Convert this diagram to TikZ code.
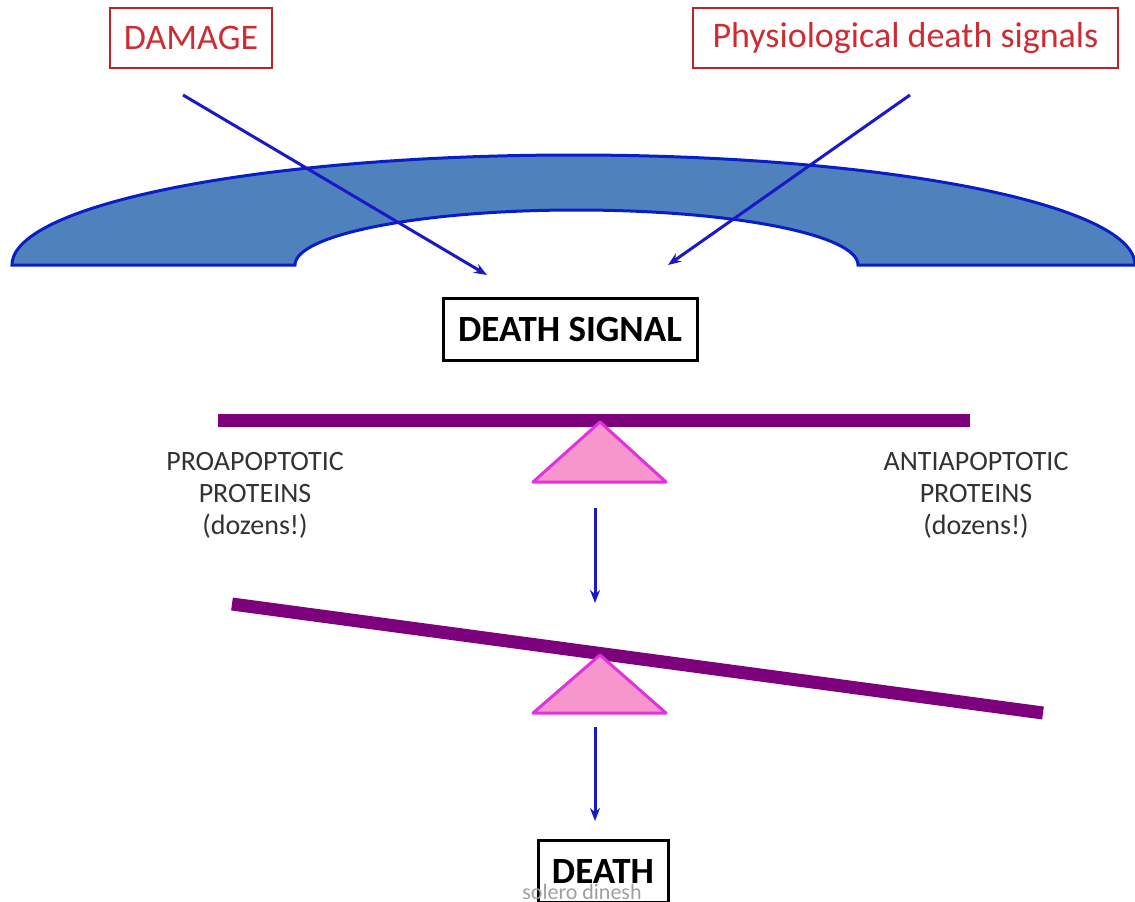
\documentclass[tikz,border=0pt]{standalone}
\usepackage{fontspec}
\setmainfont{Carlito}
\usetikzlibrary{arrows.meta}
\definecolor{boxred}{RGB}{192,32,40}
\definecolor{txtred}{RGB}{205,45,50}
\definecolor{arrowblue}{RGB}{25,25,200}
\definecolor{shapefill}{RGB}{79,129,189}
\definecolor{shapeedge}{RGB}{10,30,200}
\definecolor{beam}{RGB}{125,0,125}
\definecolor{pivotfill}{RGB}{247,150,205}
\definecolor{pivotedge}{RGB}{225,50,220}
\definecolor{labelgray}{RGB}{50,50,50}
\tikzset{
  redbox/.style={draw=boxred, line width=2.6pt, text=txtred, font=\fontsize{36}{40}\selectfont, inner sep=0pt, minimum height=60pt},
  blackbox/.style={draw=black, line width=3pt, text=black, font=\bfseries\fontsize{37}{40}\selectfont, inner sep=0pt, minimum height=62pt},
  sidelabel/.style={text=labelgray, align=center, font=\fontsize{28}{32}\selectfont, inner sep=0pt},
  bluearrow/.style={draw=arrowblue, line width=3pt, -{Stealth[length=13pt,width=10pt]}},
  beamline/.style={draw=beam, line width=13pt},
  pivot/.style={fill=pivotfill, draw=pivotedge, line width=3pt, line join=round},
}
\begin{document}
\begin{tikzpicture}[x=1pt,y=-1pt]
\useasboundingbox (0,0) rectangle (1135,902);
% arch shape
\path[fill=shapefill, draw=shapeedge, line width=3pt]
  (12,265) arc[start angle=180, end angle=0, x radius=561.5pt, y radius=110pt]
  -- (858,265) arc[start angle=0, end angle=180, x radius=281.5pt, y radius=55pt]
  -- cycle;
% top boxes
\node[redbox, minimum width=162pt] (damage) at (191,38) {DAMAGE};
\node[redbox, minimum width=425pt] (phys) at (905.5,38) {Physiological death signals};
% arrows
\coordinate (dstart) at (183,95);
\coordinate (dend) at (487,275);
\coordinate (pstart) at (910,95);
\coordinate (pend) at (668,265);
\draw[bluearrow] (dstart) -- (dend);
\draw[bluearrow] (pstart) -- (pend);
% death signal
\node[blackbox, minimum width=254pt] (signal) at (570,329) {DEATH SIGNAL};
% balanced beam
\coordinate (b1l) at (218,420);
\coordinate (b1r) at (970,420);
\draw[beamline] (b1l) -- (b1r);
\path[pivot] (600,422) -- (666,482) -- (533,482) -- cycle;
\node[sidelabel] (pro) at (255,495) {PROAPOPTOTIC\\PROTEINS\\(dozens!)};
\node[sidelabel] (anti) at (976,495) {ANTIAPOPTOTIC\\PROTEINS\\(dozens!)};
% arrow down
\coordinate (a1s) at (595,508);
\coordinate (a1e) at (595,603);
\draw[bluearrow] (a1s) -- (a1e);
% tilted beam
\coordinate (b2l) at (232,604);
\coordinate (b2r) at (1043,713);
\draw[beamline] (b2l) -- (b2r);
\path[pivot] (600,655) -- (666,713) -- (533,713) -- cycle;
% arrow down
\coordinate (a2s) at (595,727);
\coordinate (a2e) at (595,821);
\draw[bluearrow] (a2s) -- (a2e);
% death
\node[blackbox, minimum width=130pt] (death) at (603,871) {DEATH};
\node[text=gray!75, font=\fontsize{22}{24}\selectfont, inner sep=0pt] (wm) at (582,892) {solero dinesh};
\end{tikzpicture}
\end{document}
